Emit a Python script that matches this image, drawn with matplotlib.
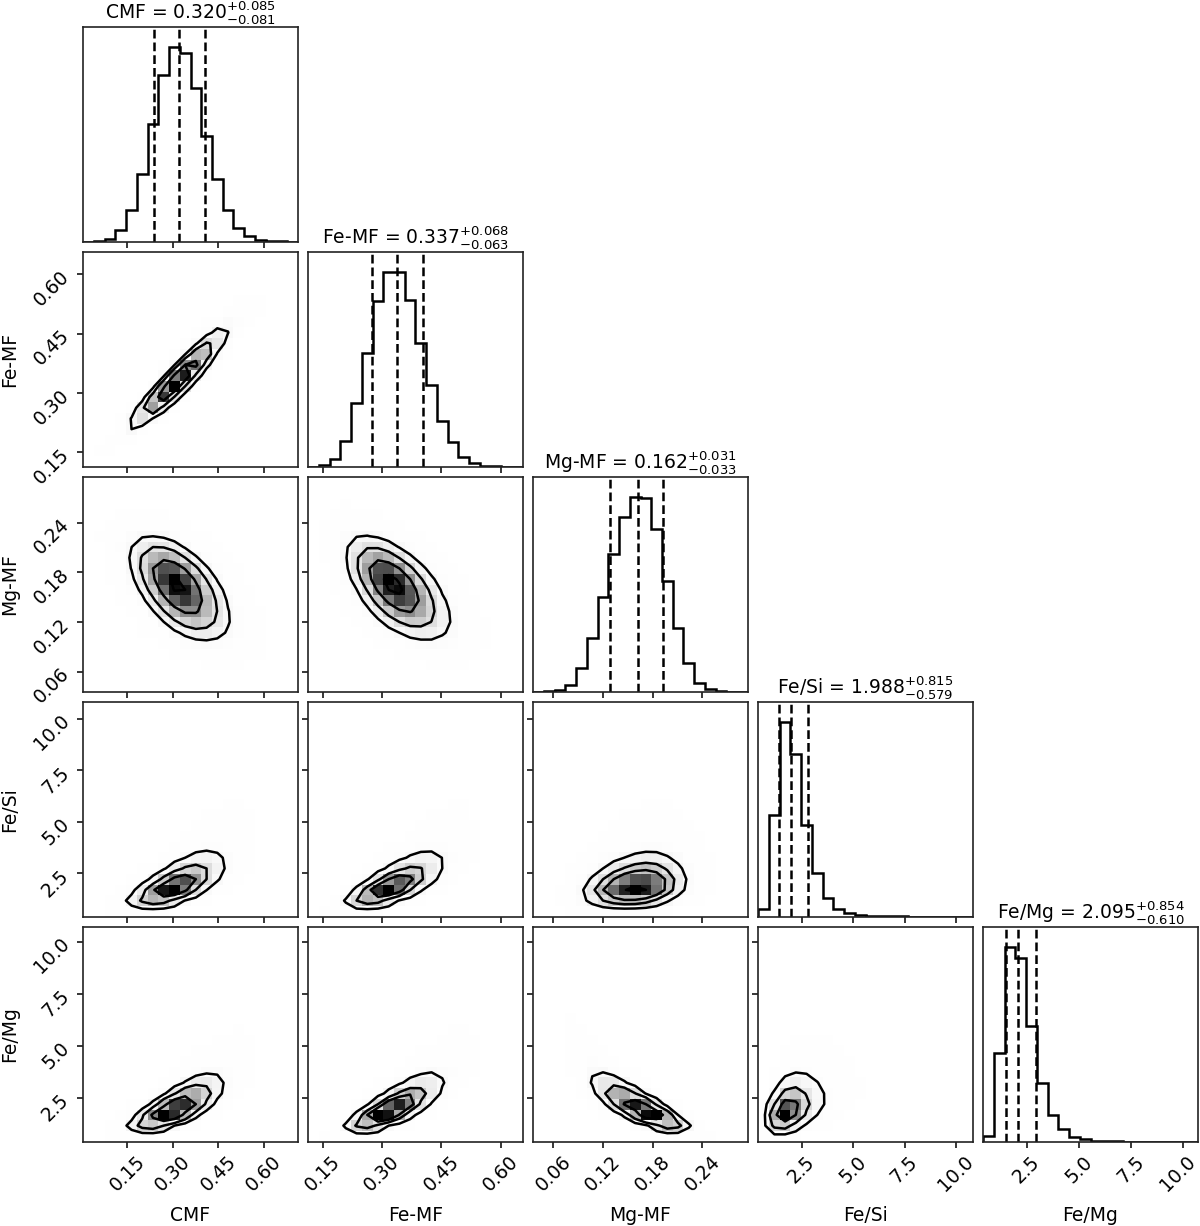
import numpy as np
import matplotlib
matplotlib.use("Agg")
import matplotlib.pyplot as plt
import matplotlib.transforms as mtransforms
from matplotlib.colors import LinearSegmentedColormap
from statistics import NormalDist

# ---------------- data ----------------
labels = ["CMF", "Fe-MF", "Mg-MF", "Fe/Si", "Fe/Mg"]
medians = [0.320, 0.337, 0.162, 1.988, 2.095]
err_minus = [0.081, 0.063, 0.033, 0.579, 0.610]
err_plus = [0.085, 0.068, 0.031, 0.815, 0.854]

range_cmf = [0.005, 0.711]
range_femf = [0.114, 0.656]
range_mgmf = [0.036, 0.295]
range_fesi = [0.40, 10.81]
range_femg = [0.42, 10.70]

# 20-bin marginal histograms (relative counts)
hist_cmf = [0, 2, 8, 34, 95, 203, 352, 500, 584, 564, 460, 317, 189, 96, 42, 17, 5, 2, 1, 0]
hist_femf = [0, 5, 24, 78, 190, 341, 495, 583, 583, 500, 371, 245, 138, 73, 28, 10, 3, 1, 0, 0]
hist_mgmf = [0, 1, 4, 20, 70, 160, 284, 412, 522, 582, 577, 485, 332, 190, 87, 25, 7, 2, 0, 0]
hist_fesi = [24, 305, 587, 489, 276, 133, 56, 24, 11, 5, 3, 2, 1, 1, 0, 0, 0, 0, 0, 0]
hist_femg = [17, 265, 585, 552, 347, 177, 80, 37, 15, 7, 3, 2, 1, 0, 0, 0, 0, 0, 0, 0]

# pairwise correlation (row variable, column variable, rho)
pair_rows = [1, 2, 2, 3, 3, 3, 4, 4, 4, 4]
pair_cols = [0, 0, 1, 0, 1, 2, 0, 1, 2, 3]
pair_rho = [0.94, -0.55, -0.58, 0.72, 0.76, 0.25, 0.78, 0.82, -0.85, 0.45]

ticks_frac = [0.15, 0.30, 0.45, 0.60]
ticklabels_frac = ["0.15", "0.30", "0.45", "0.60"]
ticks_mg = [0.06, 0.12, 0.18, 0.24]
ticklabels_mg = ["0.06", "0.12", "0.18", "0.24"]
ticks_ratio = [2.5, 5.0, 7.5, 10.0]
ticklabels_ratio = ["2.5", "5.0", "7.5", "10.0"]

# ---------------- assemble ----------------
ranges = [range_cmf, range_femf, range_mgmf, range_fesi, range_femg]
hists = [np.array(h, float) for h in (hist_cmf, hist_femf, hist_mgmf, hist_fesi, hist_femg)]
ticks = [ticks_frac, ticks_frac, ticks_mg, ticks_ratio, ticks_ratio]
ticklabels = [ticklabels_frac, ticklabels_frac, ticklabels_mg, ticklabels_ratio, ticklabels_ratio]
K = len(labels)
nbins = 20
edges = [np.linspace(r[0], r[1], nbins + 1) for r in ranges]

nd = NormalDist()


def normal_scores(h):
    c = (np.cumsum(h) - 0.5 * h) / h.sum()
    c = np.clip(c, 1e-6, 1 - 1e-6)
    return np.array([nd.inv_cdf(float(v)) for v in c])


def joint_hist(hx, hy, rho):
    a = normal_scores(hx)[:, None]
    b = normal_scores(hy)[None, :]
    cop = np.exp(-(rho ** 2 * (a ** 2 + b ** 2) - 2 * rho * a * b) / (2 * (1 - rho ** 2))) / np.sqrt(1 - rho ** 2)
    return np.outer(hx, hy) * cop


density_cmap = LinearSegmentedColormap.from_list("density_cmap", ["k", (1, 1, 1, 0)])
levels = 1.0 - np.exp(-0.5 * np.arange(0.5, 2.1, 0.5) ** 2)

FS = 13.5
LW = 1.8
fig = plt.figure(figsize=(12, 12.26), dpi=100)
W, Hpx = 1200.0, 1226.0
left0, top0, step, size = 83.3, 27.3, 225.0, 214.4

rho_lookup = {(r, c): p for r, c, p in zip(pair_rows, pair_cols, pair_rho)}

for r in range(K):
    for c in range(r + 1):
        l = (left0 + step * c) / W
        b = 1 - (top0 + step * r + size) / Hpx
        ax = fig.add_axes([l, b, size / W, size / Hpx])
        for sp in ax.spines.values():
            sp.set_linewidth(1.2)
            sp.set_color("#222222")
        ax.tick_params(labelsize=FS, length=4, width=1.1)
        if r == c:
            h = hists[c]
            ax.stairs(h, edges[c], color="k", lw=LW)
            q16 = medians[c] - err_minus[c]
            q84 = medians[c] + err_plus[c]
            for q in (q16, medians[c], q84):
                ax.axvline(q, color="k", ls=(0, (3.5, 1.6)), lw=LW)
            ax.set_ylim(0, 1.1 * h.max())
            ax.set_yticks([])
            ax.set_title(r"%s = $%.3f_{-%.3f}^{+%.3f}$" % (labels[c], medians[c], err_minus[c], err_plus[c]),
                         fontsize=FS)
        else:
            Hm = joint_hist(hists[c], hists[r], rho_lookup[(r, c)])
            X, Y = edges[c], edges[r]
            Hflat = np.sort(Hm.flatten())[::-1]
            sm = np.cumsum(Hflat)
            sm /= sm[-1]
            V = np.empty(len(levels))
            for i, v0 in enumerate(levels):
                sel = Hflat[sm <= v0]
                V[i] = sel[-1] if len(sel) else Hflat[0]
            V.sort()
            X1, Y1 = 0.5 * (X[1:] + X[:-1]), 0.5 * (Y[1:] + Y[:-1])
            H2 = Hm.min() + np.zeros((Hm.shape[0] + 4, Hm.shape[1] + 4))
            H2[2:-2, 2:-2] = Hm
            H2[2:-2, 1] = Hm[:, 0]
            H2[2:-2, -2] = Hm[:, -1]
            H2[1, 2:-2] = Hm[0]
            H2[-2, 2:-2] = Hm[-1]
            H2[1, 1] = Hm[0, 0]
            H2[1, -2] = Hm[0, -1]
            H2[-2, 1] = Hm[-1, 0]
            H2[-2, -2] = Hm[-1, -1]
            X2 = np.concatenate([X1[0] + np.array([-2, -1]) * np.diff(X1[:2]), X1,
                                 X1[-1] + np.array([1, 2]) * np.diff(X1[-2:])])
            Y2 = np.concatenate([Y1[0] + np.array([-2, -1]) * np.diff(Y1[:2]), Y1,
                                 Y1[-1] + np.array([1, 2]) * np.diff(Y1[-2:])])
            ax.pcolormesh(X, Y, Hm.max() - Hm.T, cmap=density_cmap, shading="flat",
                          antialiased=False, edgecolors="none")
            ax.contour(X2, Y2, H2.T, V, colors="k", linewidths=LW)
            ax.set_xlim(ranges[c])
            ax.set_ylim(ranges[r])
            ax.set_yticks(ticks[r])
            if c == 0:
                ax.set_yticklabels(ticklabels[r], rotation=45)
                ax.set_ylabel(labels[r], fontsize=FS)
                ax.yaxis.set_label_coords(-0.3, 0.5)
            else:
                ax.set_yticklabels([])
        ax.set_xlim(ranges[c])
        ax.set_xticks(ticks[c])
        if r == K - 1:
            ax.set_xticklabels(ticklabels[c], rotation=45)
            ax.set_xlabel(labels[c], fontsize=FS)
            ax.xaxis.set_label_coords(0.5, -0.3)
            if c == K - 1:
                last = ax.get_xticklabels()[-1]
                last.set_transform(last.get_transform() +
                                   mtransforms.ScaledTranslation(-4 / 72, 0, fig.dpi_scale_trans))
        else:
            ax.set_xticklabels([])

fig.savefig("out.png", dpi=100)
